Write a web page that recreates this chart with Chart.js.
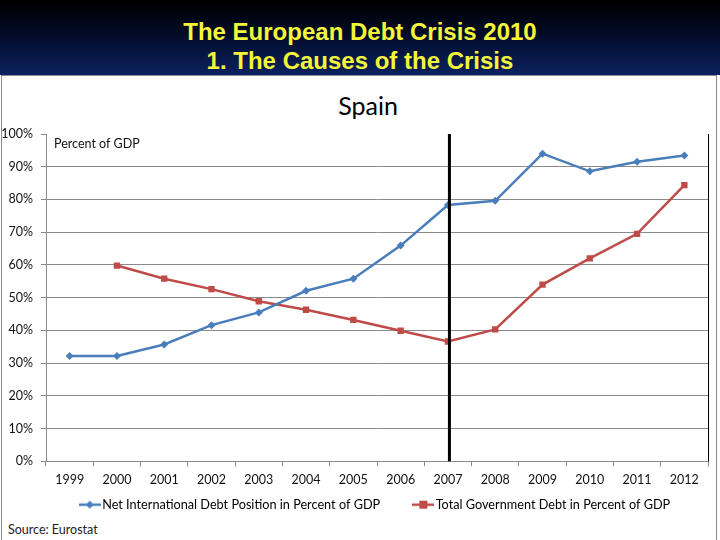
<!DOCTYPE html>
<html>
<head>
<meta charset="utf-8">
<script src="https://cdn.jsdelivr.net/npm/chart.js@4.4.1/dist/chart.umd.min.js"></script>
<style>
  html, body { margin: 0; padding: 0; width: 720px; height: 540px; overflow: hidden; background: #fff; }
  #header {
    position: absolute; left: 0; top: 0; width: 720px; height: 75px;
    background: linear-gradient(to bottom, #000000 0%, #030c26 45%, #0b2160 100%);
    color: #f5f53a; font-family: "Liberation Sans", Arial, sans-serif; font-weight: bold;
    font-size: 24px; text-align: center; line-height: 29px; padding-top: 17px; box-sizing: border-box;
  }
  #panel {
    position: absolute; left: 1px; top: 75px; width: 716px; height: 470px;
    border: 1px solid #8a8a8a; box-sizing: border-box;
  }
  #spain {
    position: absolute; left: 268px; width: 200px; top: 90px; text-align: center;
    font-family: Lato, sans-serif; font-size: 25px; color: #000;
  }
  #source {
    position: absolute; left: 8px; top: 522px; font-family: Lato, sans-serif; font-size: 12.5px; color: #222;
  }
  #wrap { position: absolute; left: 0; top: 0; width: 720px; height: 540px; }
</style>
</head>
<body>
<div id="header">The European Debt Crisis 2010<br>1. The Causes of the Crisis</div>
<div id="panel"></div>
<div id="spain">Spain</div>
<div id="source">Source: Eurostat</div>
<div id="wrap"><canvas id="chart" width="720" height="540"></canvas></div>
<script>
const years = ['1999', '2000', '2001', '2002', '2003', '2004', '2005', '2006', '2007', '2008', '2009', '2010', '2011', '2012'];
const netDebt = [32.2, 32.2, 35.7, 41.6, 45.5, 52.1, 55.8, 65.9, 78.3, 79.6, 94.0, 88.6, 91.5, 93.4];
const govDebt = [null, 59.8, 55.8, 52.6, 48.9, 46.3, 43.2, 39.9, 36.6, 40.3, 54.0, 62.0, 69.5, 84.4];
const yTicks = [0, 10, 20, 30, 40, 50, 60, 70, 80, 90, 100];
const crisisYear = '2007';

const blue = '#4a7ebb';
const red = '#be4b48';

// legend sample: a short line with the marker in the middle
function legendIcon(color, shape) {
  const c = document.createElement('canvas');
  c.width = 22; c.height = 10;
  const g = c.getContext('2d');
  g.strokeStyle = color; g.lineWidth = 2.5;
  g.beginPath(); g.moveTo(0, 5); g.lineTo(22, 5); g.stroke();
  g.fillStyle = color;
  if (shape === 'diamond') {
    g.beginPath(); g.moveTo(11, 1); g.lineTo(15, 5); g.lineTo(11, 9); g.lineTo(7, 5); g.closePath(); g.fill();
  } else {
    g.fillRect(7, 1, 8, 8);
  }
  return c;
}

const extras = {
  id: 'extras',
  afterDatasetsDraw(chart) {
    const ctx = chart.ctx;
    const a = chart.chartArea;
    const x = chart.scales.x.getPixelForValue(years.indexOf(crisisYear)) + 1.5;
    ctx.save();
    ctx.strokeStyle = '#000';
    ctx.lineWidth = 3;
    ctx.beginPath(); ctx.moveTo(x, a.top); ctx.lineTo(x, a.bottom); ctx.stroke();
    ctx.lineWidth = 1;
    ctx.beginPath(); ctx.moveTo(a.right + 0.5, a.top); ctx.lineTo(a.right + 0.5, a.bottom); ctx.stroke();
    ctx.fillStyle = '#111';
    ctx.font = '12.5px Lato, sans-serif';
    ctx.textBaseline = 'middle';
    ctx.fillText('Percent of GDP', a.left + 8, a.top + 10);
    ctx.restore();
  }
};

new Chart(document.getElementById('chart'), {
  type: 'line',
  data: {
    labels: years,
    datasets: [{
      label: 'Net International Debt Position in Percent of GDP',
      data: netDebt,
      borderColor: blue,
      backgroundColor: blue,
      borderWidth: 2.5,
      pointStyle: 'rectRot',
      pointRadius: 4,
      pointBorderWidth: 0,
      tension: 0
    }, {
      label: 'Total Government Debt in Percent of GDP',
      data: govDebt,
      borderColor: red,
      backgroundColor: red,
      borderWidth: 2.5,
      pointStyle: 'rect',
      pointRadius: 4.5,
      pointBorderWidth: 0,
      tension: 0
    }]
  },
  options: {
    responsive: false,
    animation: false,
    layout: { padding: { top: 134, left: 0, right: 12, bottom: 19 } },
    plugins: {
      title: { display: false },
      legend: {
        position: 'bottom',
        fullSize: false,
        labels: {
          usePointStyle: true,
          pointStyleWidth: 12,
          boxHeight: 10,
          padding: 5,
          color: '#111',
          font: { family: 'Lato, sans-serif', size: 12.7 },
          generateLabels(chart) {
            return chart.data.datasets.map((ds, i) => ({
              // non-breaking spaces widen the gap after the first entry
              text: i === 0 ? ds.label + '\u00a0'.repeat(10) : ds.label,
              pointStyle: legendIcon(ds.borderColor, i === 0 ? 'diamond' : 'square'),
              fillStyle: ds.borderColor,
              strokeStyle: ds.borderColor,
              lineWidth: 0,
              datasetIndex: i,
              hidden: false
            }));
          }
        }
      },
      tooltip: { enabled: false }
    },
    scales: {
      x: {
        offset: true,
        grid: { offset: true, drawOnChartArea: false, tickLength: 5, color: '#8a8a8a' },
        border: { color: '#8a8a8a' },
        ticks: { color: '#111', font: { family: 'Lato, sans-serif', size: 12.5 }, padding: 6, maxRotation: 0 },
        afterFit(scale) { scale.height = 32; }
      },
      y: {
        min: 0,
        max: 100,
        afterBuildTicks(scale) { scale.ticks = yTicks.map(v => ({ value: v })); },
        grid: {
          color: ctx => ctx.tick && ctx.tick.value === 100 ? 'rgba(0,0,0,0)' : '#8a8a8a',
          tickColor: '#8a8a8a',
          tickLength: 5
        },
        border: { color: '#8a8a8a' },
        ticks: {
          color: '#111',
          font: { family: 'Lato, sans-serif', size: 12.5 },
          padding: 8,
          callback: v => v + '%'
        },
        afterFit(scale) { scale.width = 46; }
      }
    }
  },
  plugins: [extras]
});
</script>
</body>
</html>
